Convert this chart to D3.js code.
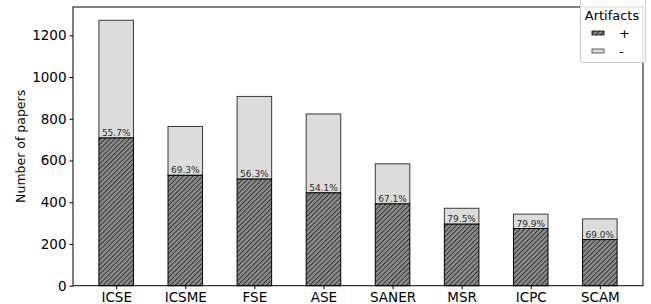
<!DOCTYPE html>
<html>
<head>
<meta charset="utf-8">
<script src="https://cdn.jsdelivr.net/npm/d3@7"></script>
<style>
  body { margin: 0; background: #fff; }
  svg { font-family: "DejaVu Sans", sans-serif; }
  .axis text { font-size: 13.5px; font-family: "DejaVu Sans", sans-serif; fill: #000; }
  .axis line { stroke: #000; }
</style>
</head>
<body>
<svg id="chart" width="651" height="304"></svg>
<script>
// data
var venues = ["ICSE", "ICSME", "FSE", "ASE", "SANER", "MSR", "ICPC", "SCAM"];
var totalPapers = [1272, 763, 907, 823, 584, 371, 343, 320];
var withArtifacts = [708, 529, 511, 445, 392, 295, 274, 221];
var pctLabels = ["55.7%", "69.3%", "56.3%", "54.1%", "67.1%", "79.5%", "79.9%", "69.0%"];
var yTicks = [0, 200, 400, 600, 800, 1000, 1200];

var svg = d3.select("#chart"),
    margin = {top: 7, right: 8, bottom: 18.3, left: 73},
    width = +svg.attr("width") - margin.left - margin.right,
    height = +svg.attr("height") - margin.top - margin.bottom;

var data = venues.map(function(v, i) {
  return {name: v, total: totalPapers[i], plus: withArtifacts[i], pct: pctLabels[i]};
});

// hatch pattern like matplotlib "////"
var defs = svg.append("defs");
var pat = defs.append("pattern")
    .attr("id", "hatch")
    .attr("patternUnits", "userSpaceOnUse")
    .attr("width", 3.4).attr("height", 3.4)
    .attr("patternTransform", "rotate(45)");
pat.append("rect").attr("width", 3.4).attr("height", 3.4).attr("fill", "#8c8c8c");
pat.append("line").attr("x1", 0.5).attr("y1", 0).attr("x2", 0.5).attr("y2", 3.4)
    .attr("stroke", "#222").attr("stroke-width", 0.85);

// bar width 0.5, matplotlib style margins
var x = d3.scaleLinear().domain([-0.625, venues.length - 1 + 0.625]).range([0, width]);
var y = d3.scaleLinear().domain([0, d3.max(totalPapers) * 1.05]).range([height, 0]);
var bw = x(0.5) - x(0);

var g = svg.append("g")
    .attr("transform", "translate(" + margin.left + "," + margin.top + ")");

// light part (total)
g.selectAll(".bar-total")
  .data(data)
  .enter().append("rect")
    .attr("class", "bar-total")
    .attr("x", function(d, i) { return x(i) - bw / 2; })
    .attr("y", function(d) { return y(d.total); })
    .attr("width", bw)
    .attr("height", function(d) { return y(d.plus) - y(d.total); })
    .attr("fill", "#dcdcdc")
    .attr("stroke", "#3a3a3a")
    .attr("stroke-width", 1);

// hatched part (with artifacts)
g.selectAll(".bar-plus")
  .data(data)
  .enter().append("rect")
    .attr("class", "bar-plus")
    .attr("x", function(d, i) { return x(i) - bw / 2; })
    .attr("y", function(d) { return y(d.plus); })
    .attr("width", bw)
    .attr("height", function(d) { return height - y(d.plus); })
    .attr("fill", "url(#hatch)")
    .attr("stroke", "#000")
    .attr("stroke-width", 1);

// percentage labels
g.selectAll(".pct")
  .data(data)
  .enter().append("text")
    .attr("class", "pct")
    .attr("x", function(d, i) { return x(i); })
    .attr("y", function(d) { return y(d.plus) - 2; })
    .attr("text-anchor", "middle")
    .style("font-size", "9px")
    .attr("fill", "#2a2a2a")
    .text(function(d) { return d.pct; });

// axes
var xAxis = g.append("g")
    .attr("class", "axis")
    .attr("transform", "translate(0," + height + ")")
    .call(d3.axisBottom(x).tickValues(d3.range(venues.length))
      .tickFormat(function(i) { return venues[i]; }).tickSize(3.5).tickPadding(3));

var yAxis = g.append("g")
    .attr("class", "axis")
    .call(d3.axisLeft(y).tickValues(yTicks).tickFormat(d3.format("d"))
      .tickSize(3.5).tickPadding(3));

xAxis.select(".domain").remove();
yAxis.select(".domain").remove();

// frame
g.append("rect")
    .attr("width", width).attr("height", height)
    .attr("fill", "none").attr("stroke", "#000").attr("stroke-width", 1);

svg.append("text")
    .attr("transform", "translate(25," + (margin.top + height / 2) + ") rotate(-90)")
    .attr("text-anchor", "middle")
    .style("font-size", "12.5px")
    .text("Number of papers");

// legend
var leg = svg.append("g");
leg.append("rect")
    .attr("x", 580.5).attr("y", -4).attr("width", 65).attr("height", 66.5)
    .attr("rx", 2)
    .attr("fill", "#fff").attr("fill-opacity", 0.85)
    .attr("stroke", "#cccccc");
leg.append("text")
    .attr("x", 612).attr("y", 20)
    .attr("text-anchor", "middle")
    .style("font-size", "13px")
    .text("Artifacts");
var legItems = [
  {label: "+", fill: "url(#hatch)", stroke: "#000"},
  {label: "-", fill: "#dcdcdc", stroke: "#3a3a3a"}
];
legItems.forEach(function(it, i) {
  var cy = 33 + i * 18;
  leg.append("rect")
      .attr("x", 592).attr("y", cy - 2).attr("width", 12).attr("height", 4)
      .attr("fill", it.fill).attr("stroke", it.stroke).attr("stroke-width", 0.8);
  leg.append("text")
      .attr("x", 619).attr("y", cy + 4.5)
      .style("font-size", "13px")
      .text(it.label);
});
</script>
</body>
</html>
